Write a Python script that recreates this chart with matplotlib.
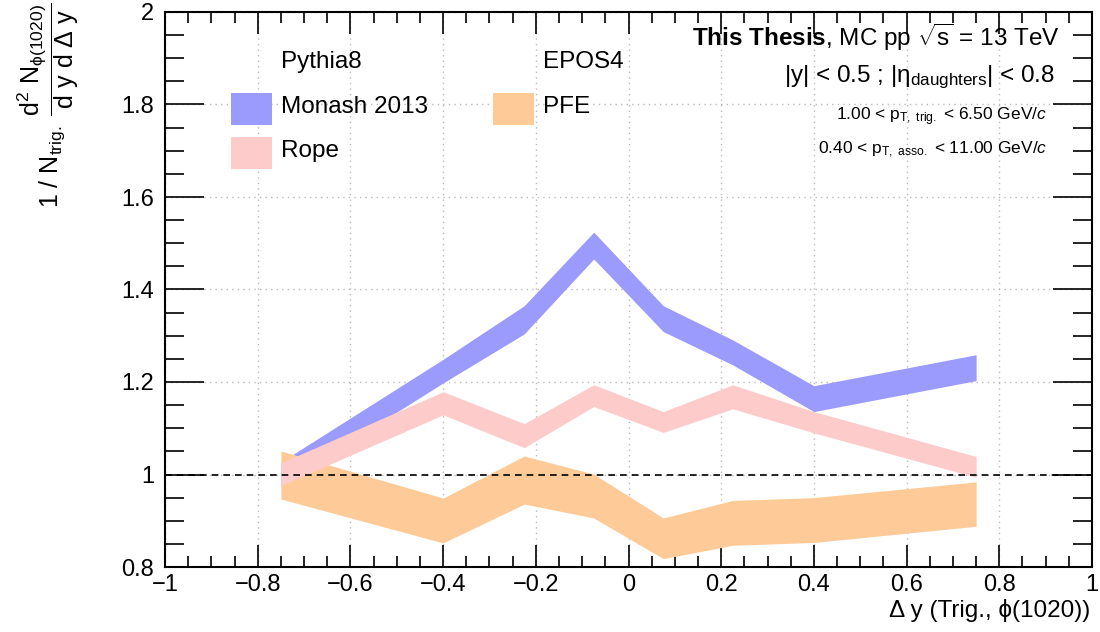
import matplotlib
matplotlib.use("Agg")
import matplotlib.pyplot as plt
from matplotlib.patches import Rectangle
from matplotlib.ticker import MultipleLocator, FuncFormatter

plt.rcParams['font.family'] = ['Liberation Sans', 'DejaVu Sans']
plt.rcParams['mathtext.fontset'] = 'custom'
plt.rcParams['mathtext.rm'] = 'Liberation Sans'
plt.rcParams['mathtext.it'] = 'Liberation Sans:italic'
plt.rcParams['mathtext.bf'] = 'Liberation Sans:bold'
plt.rcParams['mathtext.sf'] = 'Liberation Sans'

# ---- data ----
dy_centers = [-0.75, -0.4, -0.225, -0.075, 0.075, 0.225, 0.4, 0.75]

monash_low = [0.977, 1.198, 1.304, 1.466, 1.309, 1.237, 1.136, 1.203]
monash_high = [1.027, 1.249, 1.365, 1.524, 1.365, 1.291, 1.192, 1.259]

rope_low = [0.976, 1.129, 1.058, 1.147, 1.091, 1.142, 1.090, 0.994]
rope_high = [1.025, 1.179, 1.110, 1.194, 1.136, 1.194, 1.136, 1.039]

pfe_low = [0.947, 0.852, 0.936, 0.906, 0.818, 0.847, 0.853, 0.888]
pfe_high = [1.051, 0.949, 1.040, 1.001, 0.906, 0.944, 0.950, 0.984]

c_monash = '#9b9bfd'
c_rope = '#fecbcb'
c_pfe = '#fecb98'

W, H = 1100, 632
fig = plt.figure(figsize=(W / 100, H / 100), dpi=100)
ax = fig.add_axes([165 / W, 1 - 567 / H, (1092 - 165) / W, (567 - 12) / H])

ax.fill_between(dy_centers, monash_low, monash_high, color=c_monash, lw=0, zorder=2)
ax.fill_between(dy_centers, pfe_low, pfe_high, color=c_pfe, lw=0, zorder=3)
ax.fill_between(dy_centers, rope_low, rope_high, color=c_rope, lw=0, zorder=4)

ax.axhline(1.0, color='black', ls=(0, (4, 3)), lw=1.2, zorder=5)

ax.set_xlim(-1, 1)
ax.set_ylim(0.8, 2.0)
ax.xaxis.set_major_locator(MultipleLocator(0.2))
ax.xaxis.set_minor_locator(MultipleLocator(0.05))
ax.yaxis.set_major_locator(MultipleLocator(0.2))
ax.yaxis.set_minor_locator(MultipleLocator(0.05))


def fmt(v, pos):
    s = f"{v:.1f}"
    if s.endswith(".0"):
        s = s[:-2]
    if s in ("-0", "0"):
        s = "0"
    return s.replace("-", "\u2212")


ax.xaxis.set_major_formatter(FuncFormatter(fmt))
ax.yaxis.set_major_formatter(FuncFormatter(fmt))
ax.tick_params(axis='both', which='both', direction='in', top=True, right=True,
               labelsize=17, width=1.2, colors='black')
ax.tick_params(axis='x', which='major', length=16, pad=5)
ax.tick_params(axis='x', which='minor', length=8)
ax.tick_params(axis='y', which='major', length=28, pad=8)
ax.tick_params(axis='y', which='minor', length=14)
for sp in ax.spines.values():
    sp.set_linewidth(1.5)
ax.grid(True, which='major', color='#bbbbbb', ls=(0, (1, 3)), lw=1.0, zorder=0)
ax.set_axisbelow(True)

# axis titles
fig.text(1090 / W, 1 - 610 / H, "\u0394 y (Trig., \u03d5(1020))",
         ha='right', va='center', fontsize=17.5)
fig.text(48 / W, 1 - 2 / H,
         r"$\mathrm{1\ /\ N_{trig.}}\ \dfrac{\mathrm{d^{2}\ N_{\phi(1020)}}}{\mathrm{d\ y\ d\ \Delta\ y}}$",
         rotation=90, ha='center', va='top', fontsize=18)

# annotations top right
fig.text(1060 / W, 1 - 37 / H, r"$\mathbf{This\ Thesis}$, MC pp $\sqrt{\mathrm{s}}$ = 13 TeV",
         ha='right', va='center', fontsize=17.5)
fig.text(1055 / W, 1 - 77 / H, r"|y| < 0.5 ; |$\mathrm{\eta_{daughters}}$| < 0.8",
         ha='right', va='center', fontsize=17.5)
fig.text(1047 / W, 1 - 117 / H, r"1.00 < $\mathrm{p_{T,\ trig.}}$ < 6.50 GeV/$c$",
         ha='right', va='center', fontsize=12.5)
fig.text(1047 / W, 1 - 150 / H, r"0.40 < $\mathrm{p_{T,\ asso.}}$ < 11.00 GeV/$c$",
         ha='right', va='center', fontsize=12.5)

# legend
fig.text(281 / W, 1 - 62 / H, "Pythia8", ha='left', va='center', fontsize=17.5)
fig.text(543 / W, 1 - 62 / H, "EPOS4", ha='left', va='center', fontsize=17.5)
entries = [
    (231, 93, c_monash, "Monash 2013"),
    (231, 137, c_rope, "Rope"),
    (493, 93, c_pfe, "PFE"),
]
for x0, y0, col, lab in entries:
    fig.patches.append(Rectangle((x0 / W, 1 - (y0 + 32) / H), 41 / W, 32 / H,
                                 transform=fig.transFigure, facecolor=col,
                                 edgecolor='none', zorder=5))
    fig.text((x0 + 50) / W, 1 - (y0 + 14) / H, lab, ha='left', va='center',
             fontsize=17.5)

fig.savefig("out.png", dpi=100)
